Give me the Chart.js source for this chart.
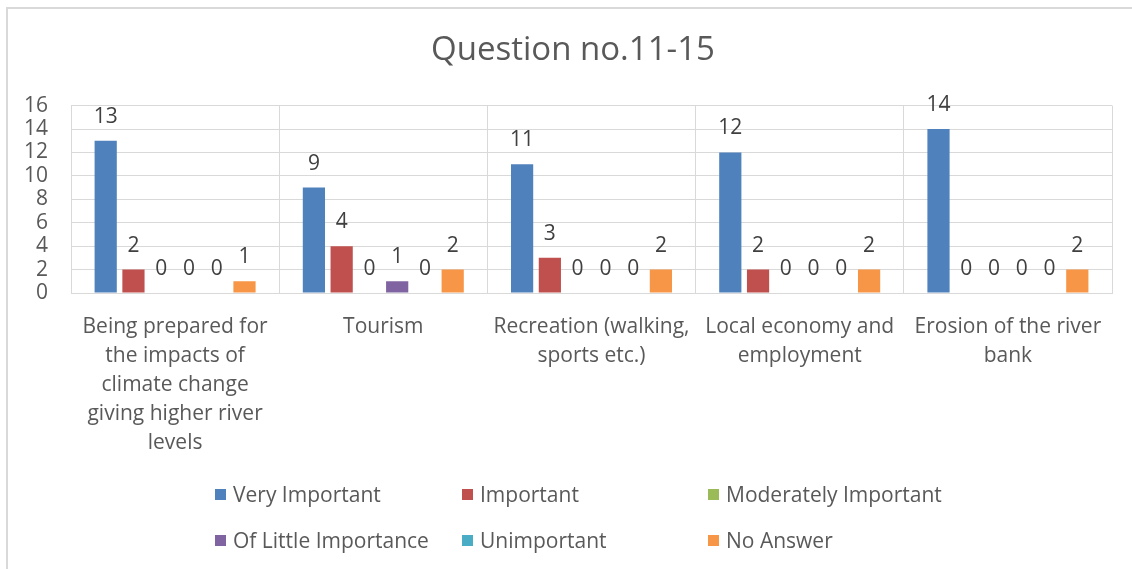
<!DOCTYPE html>
<html>
<head>
<meta charset="utf-8">
<script src="https://cdn.jsdelivr.net/npm/chart.js@4.4.1/dist/chart.umd.min.js"></script>
<style>
    html, body { margin: 0; padding: 0; background: #fff; overflow: hidden; }
    #wrap { position: relative; width: 1132px; height: 569px; }
    #frame { position: absolute; left: 6px; top: 7px; width: 1140px; height: 580px;
             border-left: 2px solid #d9d9d9; border-top: 2px solid #d9d9d9; }
    #chart { position: absolute; left: 0; top: 0; }
    .item { position: absolute; font: 21px "Open Sans", sans-serif; color: #595959;
            display: flex; align-items: center; white-space: nowrap; transform: translateY(-50%); }
    .item .box { width: 11px; height: 11px; margin-right: 7px; }
</style>
</head>
<body>
<div id="wrap">
    <div id="frame"></div>
    <canvas id="chart" width="1132" height="569"></canvas>
    <div id="legend"></div>
</div>
<script>
// categories (wrapped as in the reference)
const categories = [
    ["Being prepared for", "the impacts of", "climate change", "giving higher river", "levels"],
    "Tourism",
    ["Recreation (walking,", "sports etc.)"],
    ["Local economy and", "employment"],
    ["Erosion of the river", "bank"]
];

const seriesNames = ["Very Important", "Important", "Moderately Important", "Of Little Importance", "Unimportant", "No Answer"];
const seriesColors = ["#4f81bd", "#c0504d", "#9bbb59", "#8064a2", "#4bacc6", "#f79646"];

const veryImportant = [13, 9, 11, 12, 14];
const important = [2, 4, 3, 2, 0];
const moderatelyImportant = [0, 0, 0, 0, 0];
const littleImportance = [0, 1, 0, 0, 0];
const unimportant = [0, 0, 0, 0, 0];
const noAnswer = [1, 2, 2, 2, 2];

const yTicks = [0, 2, 4, 6, 8, 10, 12, 14, 16];

const seriesValues = [veryImportant, important, moderatelyImportant, littleImportance, unimportant, noAnswer];

const gridColor = "#d9d9d9";
const textColor = "#595959";
const fontFamily = "'Open Sans', sans-serif";

// value labels above every bar
const barValues = {
    id: "barValues",
    afterLayout(chart) {
        // the reference title sits a little right of the canvas centre
        if (chart.titleBlock) chart.titleBlock.left = 34;
    },
    afterDatasetsDraw(chart) {
        const ctx = chart.ctx;
        ctx.save();
        ctx.font = "21px " + fontFamily;
        ctx.fillStyle = "#404040";
        ctx.textAlign = "center";
        ctx.textBaseline = "middle";
        chart.data.datasets.forEach((ds, i) => {
            chart.getDatasetMeta(i).data.forEach((bar, j) => {
                ctx.fillText(String(ds.data[j]), bar.x, bar.y - 24);
            });
        });
        ctx.restore();
    }
};

new Chart(document.getElementById("chart"), {
    type: "bar",
    data: {
        labels: categories,
        datasets: seriesNames.map((name, i) => ({
            label: name,
            data: seriesValues[i],
            backgroundColor: seriesColors[i],
            categoryPercentage: 0.8,
            barPercentage: 0.8
        }))
    },
    options: {
        responsive: false,
        animation: false,
        layout: { padding: { left: 0, right: 20, top: 0, bottom: 0 } },
        plugins: {
            legend: { display: false },
            tooltip: { enabled: false },
            title: {
                display: true,
                text: "Question no.11-15",
                color: textColor,
                font: { family: fontFamily, size: 33, weight: "normal" },
                padding: { top: 31, bottom: 35 }
            }
        },
        scales: {
            x: {
                grid: { color: gridColor, drawTicks: false, offset: true },
                border: { color: gridColor },
                ticks: {
                    color: textColor,
                    font: { family: fontFamily, size: 21, lineHeight: 1.38 },
                    padding: 20,
                    maxRotation: 0,
                    autoSkip: false
                },
                afterFit(scale) { scale.height = 276; }
            },
            y: {
                min: 0,
                max: 16,
                grid: { color: gridColor, drawTicks: false },
                border: { color: gridColor },
                afterBuildTicks(scale) { scale.ticks = yTicks.map(v => ({ value: v })); },
                ticks: {
                    color: textColor,
                    font: { family: fontFamily, size: 21 },
                    padding: 23,
                    autoSkip: false
                },
                afterFit(scale) { scale.width = 71; }
            }
        }
    },
    plugins: [barValues]
});

// legend laid out in a 3x2 grid like the reference
const legend = document.getElementById("legend");
const colX = [215, 462, 708];
const rowY = [494, 540];
seriesNames.forEach((name, i) => {
    const item = document.createElement("div");
    item.className = "item";
    item.style.left = colX[i % 3] + "px";
    item.style.top = rowY[Math.floor(i / 3)] + "px";
    item.innerHTML = '<span class="box" style="background:' + seriesColors[i] + '"></span>' + name;
    legend.appendChild(item);
});
</script>
</body>
</html>
